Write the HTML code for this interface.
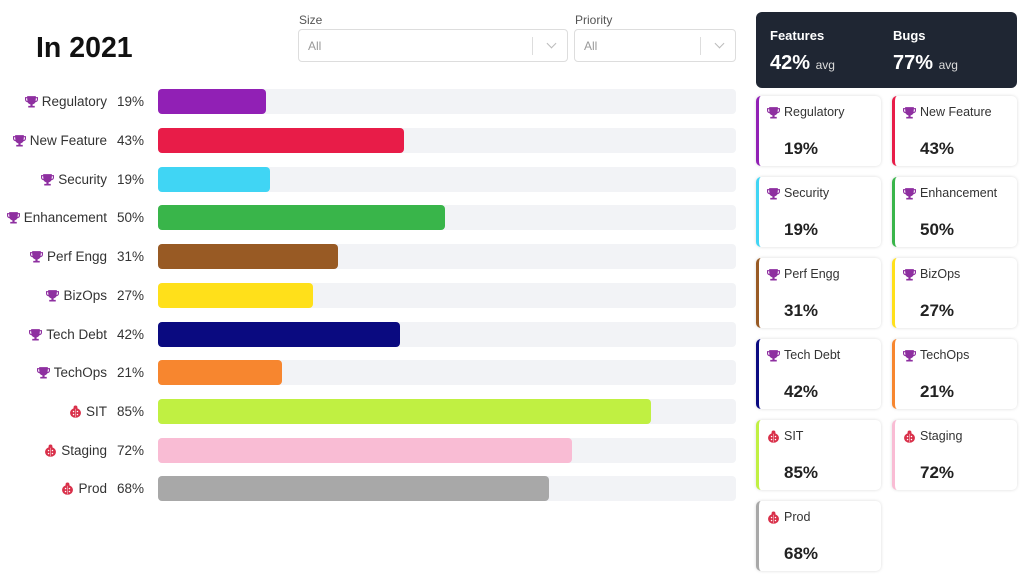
<!DOCTYPE html>
<html><head><meta charset="utf-8"><style>
*{box-sizing:border-box;margin:0;padding:0}
body{width:1024px;height:584px;background:#fff;font-family:"Liberation Sans",sans-serif;position:relative;overflow:hidden;color:#333}
h1{position:absolute;left:36px;top:32px;font-size:28.5px;font-weight:bold;color:#111}
.lbl{position:absolute;font-size:12px;color:#555}
.sel{position:absolute;top:29px;height:33px;border:1px solid #ddd;border-radius:4px;font-size:12px;color:#999;padding:9px 9px}
.sel .d{position:absolute;right:34px;top:7px;width:1px;height:18px;background:#ddd}
.sel .c{position:absolute;right:12px;top:10px;width:7px;height:7px;border-right:1.5px solid #bbb;border-bottom:1.5px solid #bbb;transform:rotate(45deg)}
.row{position:absolute;left:0;width:740px;height:25px}
.name{position:absolute;right:633px;top:5px;font-size:13.5px;color:#333;white-space:nowrap;display:flex;align-items:center;gap:4px}
.pct{position:absolute;right:596px;top:5px;font-size:13.5px;color:#333}
.trk{position:absolute;left:158px;width:578px;top:0;height:25px;background:#f2f3f6;border-radius:4px}
.bar{position:absolute;left:0;top:0;height:25px;border-radius:4px}
.hdr{position:absolute;left:756px;top:12px;width:261px;height:76px;background:#1f2633;border-radius:6px;color:#fff}
.hdr .t{position:absolute;top:16px;font-size:13px;font-weight:bold}
.hdr .v{position:absolute;top:40px;font-size:20px;font-weight:bold}
.hdr .v span{font-size:12px;font-weight:normal;color:#ddd}
.card{position:absolute;width:125px;height:70px;border-radius:5px;box-shadow:0 0 3px rgba(0,0,0,.15);background:#fff;border-left:3px solid}
.card .n{position:absolute;left:8px;top:9px;font-size:12.5px;color:#333;display:flex;align-items:center;gap:4px}
.card .p{position:absolute;left:25px;top:43px;font-size:17px;font-weight:bold;color:#222}
</style></head><body>
<svg width="0" height="0" style="position:absolute"><defs>
<symbol id="tr" viewBox="0 0 12 12"><path d="M2 1h8v1h2v2c0 1.5-1 2.5-2.3 2.6C9.2 7.8 8 8.5 7 8.6V10h2v1.5H3V10h2V8.6C4 8.5 2.8 7.8 2.3 6.6 1 6.5 0 5.5 0 4V2h2z M1 3v1c0 .8.5 1.4 1.2 1.5L2 3z M11 3h-1l-.2 2.5C10.5 5.4 11 4.8 11 4z" fill="#8e2fa0"/></symbol>
<symbol id="bg" viewBox="0 0 12 12"><circle cx="6" cy="2.3" r="1.8" fill="#d9304a"/><ellipse cx="6" cy="7.3" rx="5" ry="4.5" fill="#d9304a"/><circle cx="4.2" cy="6" r=".7" fill="#fff"/><circle cx="7.8" cy="6" r=".7" fill="#fff"/><circle cx="4.2" cy="8.8" r=".7" fill="#fff"/><circle cx="7.8" cy="8.8" r=".7" fill="#fff"/><rect x="5.8" y="3.5" width=".4" height="7.8" fill="#fff"/></symbol>
</defs></svg>
<h1>In 2021</h1>
<div class="lbl" style="left:299px;top:13px">Size</div>
<div class="sel" style="left:298px;width:270px">All<div class="d"></div><div class="c"></div></div>
<div class="lbl" style="left:575px;top:13px">Priority</div>
<div class="sel" style="left:574px;width:162px">All<div class="d"></div><div class="c"></div></div>

<div class="row" style="top:89px"><div class="name"><svg width="13" height="13"><use href="#tr"/></svg>Regulatory</div><div class="pct">19%</div><div class="trk"><div class="bar" style="width:108px;background:#9120b5"></div></div></div>
<div class="row" style="top:128px"><div class="name"><svg width="13" height="13"><use href="#tr"/></svg>New Feature</div><div class="pct">43%</div><div class="trk"><div class="bar" style="width:246px;background:#e81c48"></div></div></div>
<div class="row" style="top:167px"><div class="name"><svg width="13" height="13"><use href="#tr"/></svg>Security</div><div class="pct">19%</div><div class="trk"><div class="bar" style="width:112px;background:#40d5f4"></div></div></div>
<div class="row" style="top:205px"><div class="name"><svg width="13" height="13"><use href="#tr"/></svg>Enhancement</div><div class="pct">50%</div><div class="trk"><div class="bar" style="width:287px;background:#39b54a"></div></div></div>
<div class="row" style="top:244px"><div class="name"><svg width="13" height="13"><use href="#tr"/></svg>Perf Engg</div><div class="pct">31%</div><div class="trk"><div class="bar" style="width:180px;background:#985a24"></div></div></div>
<div class="row" style="top:283px"><div class="name"><svg width="13" height="13"><use href="#tr"/></svg>BizOps</div><div class="pct">27%</div><div class="trk"><div class="bar" style="width:155px;background:#ffe01a"></div></div></div>
<div class="row" style="top:322px"><div class="name"><svg width="13" height="13"><use href="#tr"/></svg>Tech Debt</div><div class="pct">42%</div><div class="trk"><div class="bar" style="width:242px;background:#0a0a80"></div></div></div>
<div class="row" style="top:360px"><div class="name"><svg width="13" height="13"><use href="#tr"/></svg>TechOps</div><div class="pct">21%</div><div class="trk"><div class="bar" style="width:124px;background:#f7862f"></div></div></div>
<div class="row" style="top:399px"><div class="name"><svg width="13" height="13"><use href="#bg"/></svg>SIT</div><div class="pct">85%</div><div class="trk"><div class="bar" style="width:493px;background:#c0f042"></div></div></div>
<div class="row" style="top:438px"><div class="name"><svg width="13" height="13"><use href="#bg"/></svg>Staging</div><div class="pct">72%</div><div class="trk"><div class="bar" style="width:414px;background:#f9bcd4"></div></div></div>
<div class="row" style="top:476px"><div class="name"><svg width="13" height="13"><use href="#bg"/></svg>Prod</div><div class="pct">68%</div><div class="trk"><div class="bar" style="width:391px;background:#a8a8a8"></div></div></div>

<div class="hdr"><div class="t" style="left:14px">Features</div><div class="v" style="left:14px">42% <span>avg</span></div><div class="t" style="left:137px">Bugs</div><div class="v" style="left:137px">77% <span>avg</span></div></div>

<div class="card" style="left:756px;top:96px;border-color:#9120b5"><div class="n"><svg width="13" height="13"><use href="#tr"/></svg>Regulatory</div><div class="p">19%</div></div>
<div class="card" style="left:892px;top:96px;border-color:#e81c48"><div class="n"><svg width="13" height="13"><use href="#tr"/></svg>New Feature</div><div class="p">43%</div></div>
<div class="card" style="left:756px;top:177px;border-color:#40d5f4"><div class="n"><svg width="13" height="13"><use href="#tr"/></svg>Security</div><div class="p">19%</div></div>
<div class="card" style="left:892px;top:177px;border-color:#39b54a"><div class="n"><svg width="13" height="13"><use href="#tr"/></svg>Enhancement</div><div class="p">50%</div></div>
<div class="card" style="left:756px;top:258px;border-color:#985a24"><div class="n"><svg width="13" height="13"><use href="#tr"/></svg>Perf Engg</div><div class="p">31%</div></div>
<div class="card" style="left:892px;top:258px;border-color:#ffe01a"><div class="n"><svg width="13" height="13"><use href="#tr"/></svg>BizOps</div><div class="p">27%</div></div>
<div class="card" style="left:756px;top:339px;border-color:#0a0a80"><div class="n"><svg width="13" height="13"><use href="#tr"/></svg>Tech Debt</div><div class="p">42%</div></div>
<div class="card" style="left:892px;top:339px;border-color:#f7862f"><div class="n"><svg width="13" height="13"><use href="#tr"/></svg>TechOps</div><div class="p">21%</div></div>
<div class="card" style="left:756px;top:420px;border-color:#c0f042"><div class="n"><svg width="13" height="13"><use href="#bg"/></svg>SIT</div><div class="p">85%</div></div>
<div class="card" style="left:892px;top:420px;border-color:#f9bcd4"><div class="n"><svg width="13" height="13"><use href="#bg"/></svg>Staging</div><div class="p">72%</div></div>
<div class="card" style="left:756px;top:501px;border-color:#a8a8a8"><div class="n"><svg width="13" height="13"><use href="#bg"/></svg>Prod</div><div class="p">68%</div></div>
</body></html>
